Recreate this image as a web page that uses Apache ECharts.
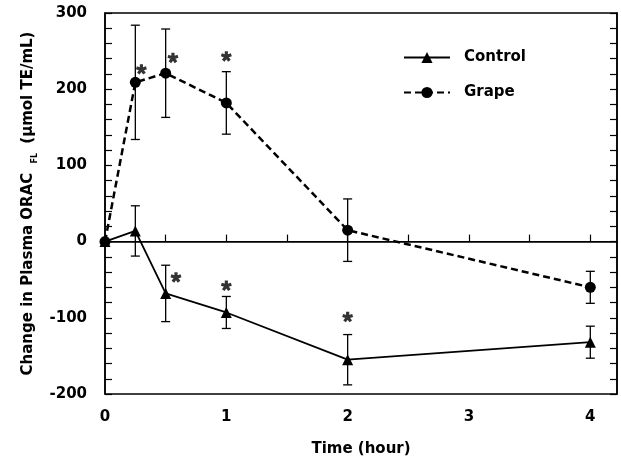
<!DOCTYPE html>
<html>
<head>
<meta charset="utf-8">
<script src="https://cdn.jsdelivr.net/npm/echarts@6/dist/echarts.min.js"></script>
<style>
html,body{margin:0;padding:0;background:#fff;}
#chart{width:621px;height:462px;}
</style>
</head>
<body>
<div id="chart"></div>
<script>
// ---- data ----
const time = [0, 0.25, 0.5, 1, 2, 4];
const control = [0, 14, -68, -93, -155, -132];
const controlErr = [0, 33, 37, 21, 33, 21];
const grape = [0, 209, 221, 182, 15, -60];
const grapeErr = [0, 75, 58, 41, 41, 21];
// significance markers (asterisks), in data units
const sigX = [0.3, 0.56, 1.0, 0.585, 1.0, 2.0];
const sigY = [226, 241, 243, -47, -58, -99];
const xTickLabels = ['0', '1', '2', '3', '4'];
const yTickLabels = ['-200', '-100', '0', '100', '200', '300'];

const FONT = 'DejaVu Sans';
const chart = echarts.init(document.getElementById('chart'), null, {renderer: 'canvas'});

function pairs(xs, ys) { return xs.map((x, i) => [x, ys[i]]); }
function triples(xs, ys, es) { return xs.map((x, i) => [x, ys[i], es[i]]); }

// asterisk glyph shape: five thick rays from a centre
function asteriskPath() {
  const r = 5, w = 1.5, c = 5;
  let d = '';
  for (let k = 0; k < 5; k++) {
    const a = (-90 + k * 72) * Math.PI / 180;
    const ux = Math.cos(a), uy = Math.sin(a), px = -uy, py = ux;
    const p = [
      [c + px * w, c + py * w],
      [c + px * w + ux * r, c + py * w + uy * r],
      [c - px * w + ux * r, c - py * w + uy * r],
      [c - px * w, c - py * w]
    ];
    d += 'M' + p.map(q => q[0].toFixed(3) + ' ' + q[1].toFixed(3)).join(' L') + ' Z ';
  }
  return 'path://' + d;
}

function errRender(params, api) {
  const x = api.value(0), y = api.value(1), e = api.value(2);
  if (!e) return null;
  const top = api.coord([x, y + e]);
  const bot = api.coord([x, y - e]);
  const hw = 4.5;
  const st = {stroke: '#000', lineWidth: 1.3};
  return {
    type: 'group',
    children: [
      {type: 'line', shape: {x1: top[0], y1: top[1], x2: bot[0], y2: bot[1]}, style: st},
      {type: 'line', shape: {x1: top[0] - hw, y1: top[1], x2: top[0] + hw, y2: top[1]}, style: st},
      {type: 'line', shape: {x1: bot[0] - hw, y1: bot[1], x2: bot[0] + hw, y2: bot[1]}, style: st}
    ]
  };
}

const option = {
  backgroundColor: '#fff',
  animation: false,
  textStyle: {fontFamily: FONT},
  grid: {left: 105, right: 4, top: 13, bottom: 68, show: true, borderColor: '#000', borderWidth: 1.5},
  legend: {
    orient: 'vertical',
    left: 403, top: 50, padding: 0,
    itemWidth: 46, itemHeight: 14, itemGap: 20,
    textStyle: {fontFamily: FONT, fontSize: 15, fontWeight: 'bold', color: '#000', padding: [0, 0, 0, 9]},
    data: ['Control', 'Grape']
  },
  xAxis: {
    type: 'value', min: 0, max: 4.22, interval: 0.5,
    name: 'Time (hour)', nameLocation: 'middle', nameGap: 48,
    nameTextStyle: {fontFamily: FONT, fontSize: 15, fontWeight: 'bold', color: '#000'},
    axisLine: {show: true, lineStyle: {color: '#000', width: 1.5}},
    axisTick: {show: true, inside: true, length: 7, lineStyle: {color: '#000', width: 1.2}},
    axisLabel: {
      margin: 16, fontFamily: FONT, fontSize: 15, fontWeight: 'bold', color: '#000',
      showMaxLabel: false,
      formatter: v => (Number.isInteger(v) ? xTickLabels[v] : '')
    },
    splitLine: {show: false}
  },
  yAxis: [{
    type: 'value', min: -200, max: 300, interval: 20,
    name: 'Change in Plasma ORAC {s|FL} (μmol TE/mL)',
    nameLocation: 'middle', nameGap: 60, nameRotate: 90,
    nameTextStyle: {
      fontFamily: FONT, fontSize: 15, fontWeight: 'bold', color: '#000', lineHeight: 20,
      rich: {s: {fontFamily: FONT, fontSize: 8, fontWeight: 'bold', color: '#000', lineHeight: 8, verticalAlign: 'bottom', padding: [0, 4, 0, 4]}}
    },
    axisLine: {show: true, lineStyle: {color: '#000', width: 1.5}},
    axisTick: {show: true, inside: true, length: 7, lineStyle: {color: '#000', width: 1.2}},
    axisLabel: {
      margin: 18, fontFamily: FONT, fontSize: 15, fontWeight: 'bold', color: '#000',
      formatter: v => (v % 100 === 0 ? yTickLabels[(v + 200) / 100] : '')
    },
    splitLine: {show: false}
  }, {
    type: 'value', min: -200, max: 300, interval: 20, position: 'right',
    axisLine: {show: true, lineStyle: {color: '#000', width: 1.5}},
    axisTick: {show: true, inside: true, length: 7, lineStyle: {color: '#000', width: 1.2}},
    axisLabel: {show: false},
    splitLine: {show: false}
  }],
  series: [
    {
      name: 'ControlErr', type: 'custom', renderItem: errRender, z: 2,
      data: triples(time, control, controlErr), silent: true
    },
    {
      name: 'GrapeErr', type: 'custom', renderItem: errRender, z: 2,
      data: triples(time, grape, grapeErr), silent: true
    },
    {
      name: 'Control', type: 'line', z: 3,
      data: pairs(time, control),
      symbol: 'triangle', symbolSize: 11,
      itemStyle: {color: '#000'},
      lineStyle: {color: '#000', width: 1.8},
      markLine: {
        silent: true, symbol: ['none', 'none'], label: {show: false},
        lineStyle: {color: '#000', width: 1.2, type: 'solid'},
        data: [{yAxis: 0}]
      }
    },
    {
      name: 'Grape', type: 'line', z: 4,
      data: pairs(time, grape),
      symbol: 'circle', symbolSize: 11,
      itemStyle: {color: '#000'},
      lineStyle: {color: '#000', width: 2.5, type: [7, 4]}
    },
    {
      name: 'sig', type: 'scatter', z: 5, silent: true,
      data: pairs(sigX, sigY),
      symbol: asteriskPath(), symbolSize: 11, symbolKeepAspect: true,
      itemStyle: {color: '#000'}
    }
  ]
};
chart.setOption(option);
</script>
</body>
</html>
